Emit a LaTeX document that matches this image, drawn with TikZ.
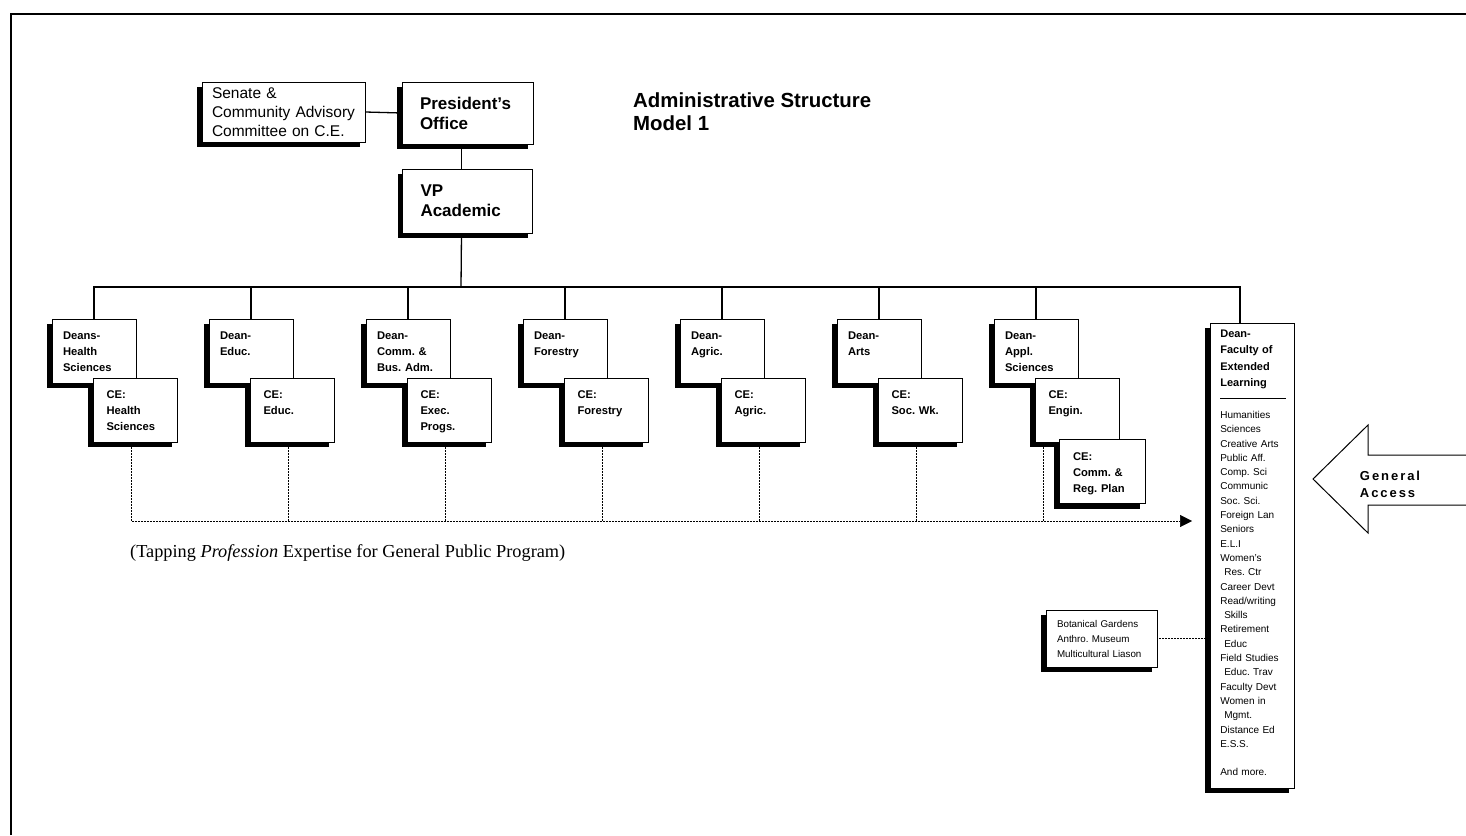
\documentclass[tikz,border=0pt]{standalone}
\usepackage{fontspec}
\setmainfont{Liberation Sans}
\newfontfamily\serifcap{Liberation Serif}
\frenchspacing
\usetikzlibrary{shapes, arrows.meta, positioning, shadows}
\tikzstyle{block} = [draw, fill=white, rectangle, line width=0.6pt, drop shadow={shadow xshift=-5pt, shadow yshift=-5pt, fill=black, opacity=1}]
\tikzstyle{head} = [block, align=left, font=\fontsize{17}{20}\selectfont\bfseries, text width=95pt, inner xsep=18pt, inner ysep=2pt, minimum height=62pt]
\tikzstyle{dean} = [block, align=left, font=\fontsize{11.2}{16}\selectfont\bfseries, text width=62pt, inner xsep=11pt, inner ysep=5.5pt, text height=15pt, text depth=38pt]
\tikzstyle{ce} = [dean, text width=57pt, inner xsep=13.5pt]
\tikzstyle{link} = [line width=1.3pt]
\tikzstyle{dotline} = [densely dotted, line width=0.5pt]

\begin{document}
\begin{tikzpicture}[x=1pt, y=-1pt]
  \useasboundingbox (0,0) rectangle (1466,835);
  \draw [line width=1.8pt] (11,835) -- (11,14) -- (1470,14);
  % top of the chart
  \node [block, align=left, font=\fontsize{15.5}{19}\selectfont, text width=143pt, inner xsep=10pt, inner ysep=2pt, minimum height=60pt] (senate) at (283.5,112) {Senate \&\\Community Advisory\\Committee on C.E.};
  \node [head] (pres) at (467.5,113) {President's\\Office};
  \node [head, below of=pres, node distance=88pt, minimum height=64pt, text width=94pt] (vp) {VP\\Academic};
  \node [anchor=north west, inner sep=0pt, align=left, font=\fontsize{20.4}{23}\selectfont\bfseries] (title) at (633,93) {Administrative Structure\\Model 1};
  \draw [link] (senate.east) -- (pres.west);
  \draw [link] ([xshift=-6pt]pres.south) -- ([xshift=-6pt]vp.north);
  % deans
  \node [dean] (deanhs) at (94,351) {Deans-\\Health\\Sciences};
  \node [dean, right of=deanhs, node distance=157pt] (deaned) {Dean-\\Educ.};
  \node [dean, right of=deaned, node distance=157pt] (deancb) {Dean-\\Comm. \&\\Bus. Adm.};
  \node [dean, right of=deancb, node distance=157pt] (deanfo) {Dean-\\Forestry};
  \node [dean, right of=deanfo, node distance=157pt] (deanag) {Dean-\\Agric.};
  \node [dean, right of=deanag, node distance=157pt] (deanar) {Dean-\\Arts};
  \node [dean, right of=deanar, node distance=157pt] (deanap) {Dean-\\Appl.\\Sciences};
  \node [ce, below of=deanhs, node distance=59pt, xshift=41pt] (cehs) {CE:\\Health\\Sciences};
  \node [ce, below of=deaned, node distance=59pt, xshift=41pt] (ceed) {CE:\\Educ.};
  \node [ce, below of=deancb, node distance=59pt, xshift=41pt] (ceex) {CE:\\Exec.\\Progs.};
  \node [ce, below of=deanfo, node distance=59pt, xshift=41pt] (cefo) {CE:\\Forestry};
  \node [ce, below of=deanag, node distance=59pt, xshift=41pt] (ceag) {CE:\\Agric.};
  \node [ce, below of=deanar, node distance=59pt, xshift=41pt] (cesw) {CE:\\Soc. Wk.};
  \node [ce, below of=deanap, node distance=59pt, xshift=41pt] (ceen) {CE:\\Engin.};
  \node [ce, below of=ceen, node distance=61.5pt, xshift=25pt, text width=58pt, inner xsep=14pt] (cerp) {CE:\\Comm. \&\\Reg. Plan};
  % extended learning
  \node [block, anchor=north west, align=left, text width=64pt, inner xsep=10pt, inner ysep=6pt, text height=8pt, text depth=445pt, font=\fontsize{10}{14.3}\selectfont] (fel) at (1210,323) {%
    {\fontsize{11}{16.5}\selectfont\bfseries Dean-\\Faculty of\\Extended\\Learning\par}
    \vspace{-3pt}\rule{66pt}{0.5pt}\par
    \vspace{6pt}Humanities\\Sciences\\Creative Arts\\Public Aff.\\Comp. Sci\\Communic\\Soc. Sci.\\Foreign Lan\\Seniors\\E.L.I\\Women's\\\hspace*{4pt}Res. Ctr\\Career Devt\\Read/writing\\\hspace*{4pt}Skills\\Retirement\\\hspace*{4pt}Educ\\Field Studies\\\hspace*{4pt}Educ. Trav\\Faculty Devt\\Women in\\\hspace*{4pt}Mgmt.\\Distance Ed\\E.S.S.\\[14.3pt]And more.};
  \node [block, align=left, text width=89pt, inner xsep=11pt, minimum height=57pt, font=\fontsize{9.8}{15}\selectfont] (bot) at (1101.5,638.5) {Botanical Gardens\\Anthro. Museum\\Multicultural Liason};
  % bus
  \coordinate (bus) at (461,287);
  \draw [link] ([xshift=-6pt]vp.south) -- (bus);
  \draw [link] (deanhs.north) |- (bus) -| ([xshift=30pt]fel.north west);
  \draw [link] (deaned.north) -- (deaned.north |- bus);
  \draw [link] (deancb.north) -- (deancb.north |- bus);
  \draw [link] (deanfo.north) -- (deanfo.north |- bus);
  \draw [link] (deanag.north) -- (deanag.north |- bus);
  \draw [link] (deanar.north) -- (deanar.north |- bus);
  \draw [link] (deanap.north) -- (deanap.north |- bus);
  % general public program
  \coordinate (tip) at (1192,521);
  \draw [dotline, -{Triangle[length=12pt, width=12pt]}] ([xshift=-4pt]cehs.south) |- (tip);
  \draw [dotline] ([xshift=-4pt]ceed.south) -- ([xshift=-4pt]ceed.south |- tip);
  \draw [dotline] ([xshift=-4pt]ceex.south) -- ([xshift=-4pt]ceex.south |- tip);
  \draw [dotline] ([xshift=-4pt]cefo.south) -- ([xshift=-4pt]cefo.south |- tip);
  \draw [dotline] ([xshift=-4pt]ceag.south) -- ([xshift=-4pt]ceag.south |- tip);
  \draw [dotline] ([xshift=-4pt]cesw.south) -- ([xshift=-4pt]cesw.south |- tip);
  \draw [dotline] ([xshift=9pt]ceen.south west) -- ([xshift=9pt]ceen.south west |- tip);
  \draw [dotline] (bot.east) -- ([xshift=-5pt]fel.west |- bot.east);
  \node [anchor=north west, inner sep=0pt, font=\serifcap\fontsize{18.3}{20}\selectfont] (caption) at (130,544) {(Tapping \textit{Profession} Expertise for General Public Program)};
  % general access
  \draw [line width=1pt] (1480,455) -- (1368,455) -- (1368,425) -- (1313,479) -- (1368,533) -- (1368,505) -- (1480,505);
  \node [align=left, font=\fontsize{13}{17}\selectfont\bfseries\addfontfeature{LetterSpace=15}] (access) at (1390,484) {General\\Access};
\end{tikzpicture}
\end{document}
